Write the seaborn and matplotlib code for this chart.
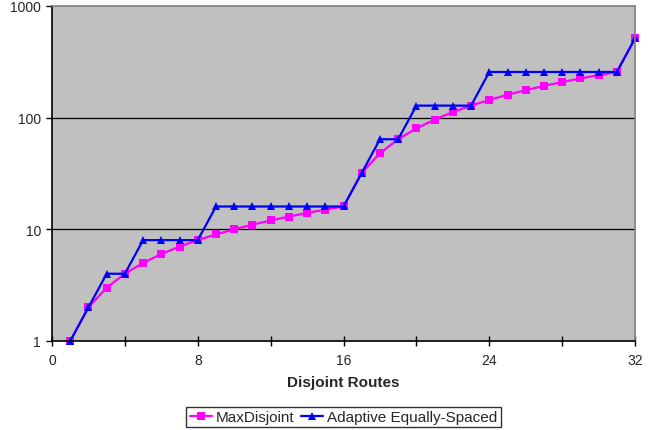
import matplotlib
matplotlib.use("Agg")
import matplotlib.pyplot as plt
import seaborn as sns
import pandas as pd
from matplotlib.ticker import FixedLocator, NullLocator

# Number of disjoint routes
routes = list(range(1, 33))

max_disjoint = [1, 2, 3, 4, 5, 6, 7, 8, 9, 10, 11, 12, 13, 14, 15, 16,
                32, 48, 64, 80, 96, 112, 128, 144, 160, 176, 192, 208,
                224, 240, 256, 512]

adaptive_equally_spaced = [1, 2, 4, 4, 8, 8, 8, 8, 16, 16, 16, 16, 16, 16, 16, 16,
                           32, 64, 64, 128, 128, 128, 128, 256, 256, 256, 256,
                           256, 256, 256, 256, 512]

series_names = ["MaxDisjoint", "Adaptive Equally-Spaced"]
x_tick_labels = ["0", "8", "16", "24", "32"]
y_tick_labels = ["1", "10", "100", "1000"]

df = pd.concat([
    pd.DataFrame({"routes": routes, "value": max_disjoint, "series": series_names[0]}),
    pd.DataFrame({"routes": routes, "value": adaptive_equally_spaced, "series": series_names[1]}),
])

sns.set_style("white")
plt.rcParams["font.family"] = ["Liberation Sans", "DejaVu Sans"]

fig = plt.figure(figsize=(6.5, 4.31), dpi=100)
ax = fig.add_axes([0.08, 0.2065, 0.897, 0.7775])
ax.set_facecolor("#C0C0C0")

sns.lineplot(data=df, x="routes", y="value", hue="series", style="series",
             palette={series_names[0]: "#FF00FF", series_names[1]: "#0000FF"},
             markers={series_names[0]: "s", series_names[1]: "^"},
             dashes=False, markersize=6, linewidth=1.6, markeredgewidth=0,
             ax=ax, legend=True)

ax.set_yscale("log")
ax.set_xlim(0, 32)
ax.set_ylim(1, 1000)

ax.yaxis.set_major_locator(FixedLocator([1, 10, 100, 1000]))
ax.yaxis.set_minor_locator(NullLocator())
ax.set_yticklabels(y_tick_labels)
ax.xaxis.set_major_locator(FixedLocator([0, 8, 16, 24, 32]))
ax.xaxis.set_minor_locator(FixedLocator([4, 12, 20, 28]))
ax.set_xticklabels(x_tick_labels)

ax.tick_params(axis="x", which="both", bottom=True, direction="inout", length=7,
               width=1, color="black", labelsize=10, pad=5)
ax.tick_params(axis="y", which="major", left=True, direction="out", length=4,
               width=1, color="black", labelsize=10, pad=4)

for y in [10, 100]:
    ax.axhline(y, color="black", linewidth=0.9, zorder=1)

for side in ["left", "bottom"]:
    ax.spines[side].set_color("black")
    ax.spines[side].set_linewidth(1.2)
for side in ["top", "right"]:
    ax.spines[side].set_color("#808080")
    ax.spines[side].set_linewidth(1.2)

ax.set_xlabel("Disjoint Routes", fontsize=11, fontweight="bold", labelpad=6)
ax.set_ylabel("")

handles, labels = ax.get_legend_handles_labels()
leg = ax.legend(handles, labels, loc="center", bbox_to_anchor=(0.5, -0.227),
                ncol=2, frameon=True, fancybox=False, fontsize=11,
                handlelength=1.45, handletextpad=0.26, columnspacing=0.45,
                borderpad=0.2, borderaxespad=0)
leg.get_frame().set_edgecolor("black")
leg.get_frame().set_linewidth(1.0)

for line in ax.get_lines():
    line.set_clip_on(False)

fig.savefig("out.png", dpi=100)
